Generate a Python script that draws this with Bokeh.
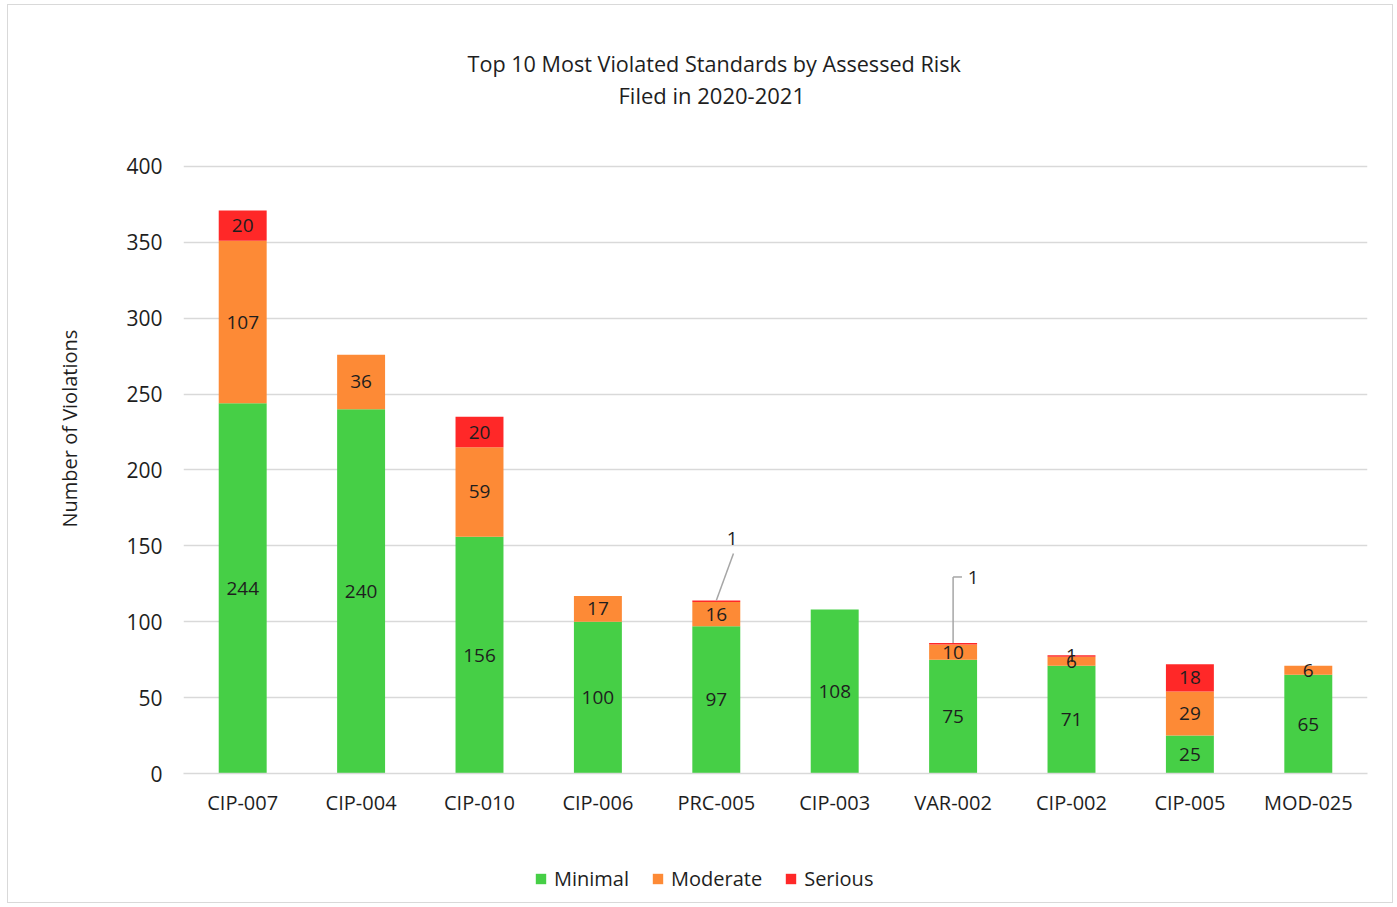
from bokeh.plotting import figure
from bokeh.layouts import column
from bokeh.models import (ColumnDataSource, Legend, LegendItem, Title, FactorRange,
                          Range1d, FixedTicker)
from bokeh.transform import dodge
from bokeh.core.properties import value
from bokeh.embed import file_html
from bokeh.resources import INLINE

# ---------------- data ----------------
standards = ["CIP-007", "CIP-004", "CIP-010", "CIP-006", "PRC-005",
             "CIP-003", "VAR-002", "CIP-002", "CIP-005", "MOD-025"]
minimal = [244, 240, 156, 100, 97, 108, 75, 71, 25, 65]
moderate = [107, 36, 59, 17, 16, 0, 10, 6, 29, 6]
serious = [20, 0, 20, 0, 1, 0, 1, 1, 18, 0]
series_names = ["Minimal", "Moderate", "Serious"]
y_ticks = [0, 50, 100, 150, 200, 250, 300, 350, 400]
title_lines = ["Top 10 Most Violated Standards by Assessed Risk", "Filed in 2020-2021"]
y_label = "Number of Violations"

# ---------------- styles ----------------
colors = ["#46CF46", "#FD8A36", "#FF2828"]
FONT = "Open Sans"
TXT = "#1e1e1e"
GRID = "#d9d9d9"
callouts = {
    "PRC-005": dict(ldx=0.135, ldy=41, path=[(0.0, 0.0, 0.145, 31)]),
    "VAR-002": dict(ldx=0.17, ldy=43, path=[(0.0, 0.0, 0.0, 43.5), (0.0, 43.5, 0.075, 43.5)]),
}

W = 1384
P_H = 842
L_H = 55

p = figure(x_range=FactorRange(factors=standards), y_range=Range1d(0, 401.3),
           width=W, height=P_H, output_backend="svg", toolbar_location=None,
           min_border_left=175, min_border_right=25, min_border_top=159,
           min_border_bottom=74)
p.title = None
p.outline_line_color = None
p.background_fill_color = "white"
p.border_fill_color = "white"

series = [minimal, moderate, serious]
bottoms = [0] * len(standards)
renderers = []
label_x, label_y, label_t = [], [], []
for name, vals, col in zip(series_names, series, colors):
    tops = [b + v for b, v in zip(bottoms, vals)]
    src = ColumnDataSource(dict(x=standards, bottom=bottoms, top=tops))
    r = p.vbar(x="x", bottom="bottom", top="top", width=0.405, source=src,
               fill_color=col, line_color=None)
    renderers.append(r)
    for s, b, v in zip(standards, bottoms, vals):
        if v == 0:
            continue
        if name == "Serious" and s in callouts:
            continue
        label_x.append(s)
        label_y.append(b + v / 2)
        label_t.append(str(v))
    bottoms = tops
totals = bottoms

lab_src = ColumnDataSource(dict(x=label_x, y=label_y, t=label_t))
p.text(x="x", y="y", text="t", source=lab_src, text_align="center",
       text_baseline="middle", text_font=value(FONT), text_font_size="19px",
       text_color=TXT)

cx, cy, ct = [], [], []
sx0, sy0, sy1 = [], [], []
dx0, dx1 = [], []
for s, cfg in callouts.items():
    i = standards.index(s)
    top = totals[i]
    for (a, b, c, d) in cfg["path"]:
        sx0.append(s); dx0.append(a); sy0.append(top + b)
        dx1.append(c); sy1.append(top + d)
    cx.append(s); cy.append(top + cfg["ldy"]); ct.append(str(serious[i]))

for k in range(len(sx0)):
    seg_src = ColumnDataSource(dict(x=[sx0[k]], y0=[sy0[k]], y1=[sy1[k]]))
    p.segment(x0=dodge("x", dx0[k], range=p.x_range), y0="y0",
              x1=dodge("x", dx1[k], range=p.x_range), y1="y1",
              source=seg_src, line_color="#a6a6a6", line_width=1.5)
for k, s in enumerate(cx):
    c_src = ColumnDataSource(dict(x=[s], y=[cy[k]], t=[ct[k]]))
    p.text(x=dodge("x", callouts[s]["ldx"], range=p.x_range), y="y", text="t",
           source=c_src, text_align="center", text_baseline="middle",
           text_font=value(FONT), text_font_size="19px", text_color=TXT)

# axes
p.yaxis.ticker = FixedTicker(ticks=y_ticks)
p.yaxis.axis_line_color = None
p.yaxis.major_tick_line_color = None
p.yaxis.minor_tick_line_color = None
p.yaxis.major_label_text_font = FONT
p.yaxis.major_label_text_font_size = "21px"
p.yaxis.major_label_text_color = TXT
p.yaxis.major_label_standoff = 15

p.xaxis.axis_line_color = GRID
p.xaxis.axis_line_width = 1.5
p.xaxis.major_tick_line_color = None
p.xaxis.minor_tick_line_color = None
p.xaxis.major_label_text_font = FONT
p.xaxis.major_label_text_font_size = "20px"
p.xaxis.major_label_text_color = TXT
p.xaxis.major_label_standoff = 9

p.xgrid.grid_line_color = None
p.ygrid.grid_line_color = GRID
p.ygrid.grid_line_width = 1.5

# y label as a side title (lets it sit off-centre like the reference)
ylab = Title(text=y_label, align="left", offset=246, standoff=82,
             text_font=FONT, text_font_size="20px", text_font_style="normal",
             text_color=TXT)
p.add_layout(ylab, "left")

# titles (first added sits closest to the plot)
spacer = Title(text=" ", text_font_size="1px", standoff=50)
t2 = Title(text=title_lines[1], align="left", offset=435, standoff=4,
           text_font=FONT, text_font_size="22px", text_font_style="normal",
           text_color=TXT)
t1 = Title(text=title_lines[0], align="left", offset=284, standoff=-5,
           text_font=FONT, text_font_size="21.6px", text_font_style="normal",
           text_color=TXT)
p.add_layout(spacer, "above")
p.add_layout(t2, "above")
p.add_layout(t1, "above")

# legend strip below the chart (its frame is aligned with the chart's frame)
leg = figure(width=W, height=L_H, output_backend="svg", toolbar_location=None,
             x_axis_type=None, y_axis_type=None, min_border=0)
leg.outline_line_color = None
leg.grid.grid_line_color = None
leg_renderers = []
for col in colors:
    leg_renderers.append(leg.vbar(x=[0], bottom=[0], top=[0], width=0.5,
                                  fill_color=col, line_color=None))
legend = Legend(items=[LegendItem(label=n, renderers=[r]) for n, r in zip(series_names, leg_renderers)],
                orientation="horizontal", location=(351, 10),
                glyph_width=13, glyph_height=13, label_standoff=7, spacing=22,
                label_height=20,
                label_text_font=FONT, label_text_font_size="20px", label_text_color=TXT,
                border_line_color=None, background_fill_alpha=0, margin=0, padding=4)
leg.add_layout(legend, "center")

layout = column(p, leg, spacing=0)
layout.styles = {"border": "1px solid #d9d9d9", "margin-left": "7px", "margin-top": "4px"}

open("out.html", "w").write(file_html(layout, INLINE))
